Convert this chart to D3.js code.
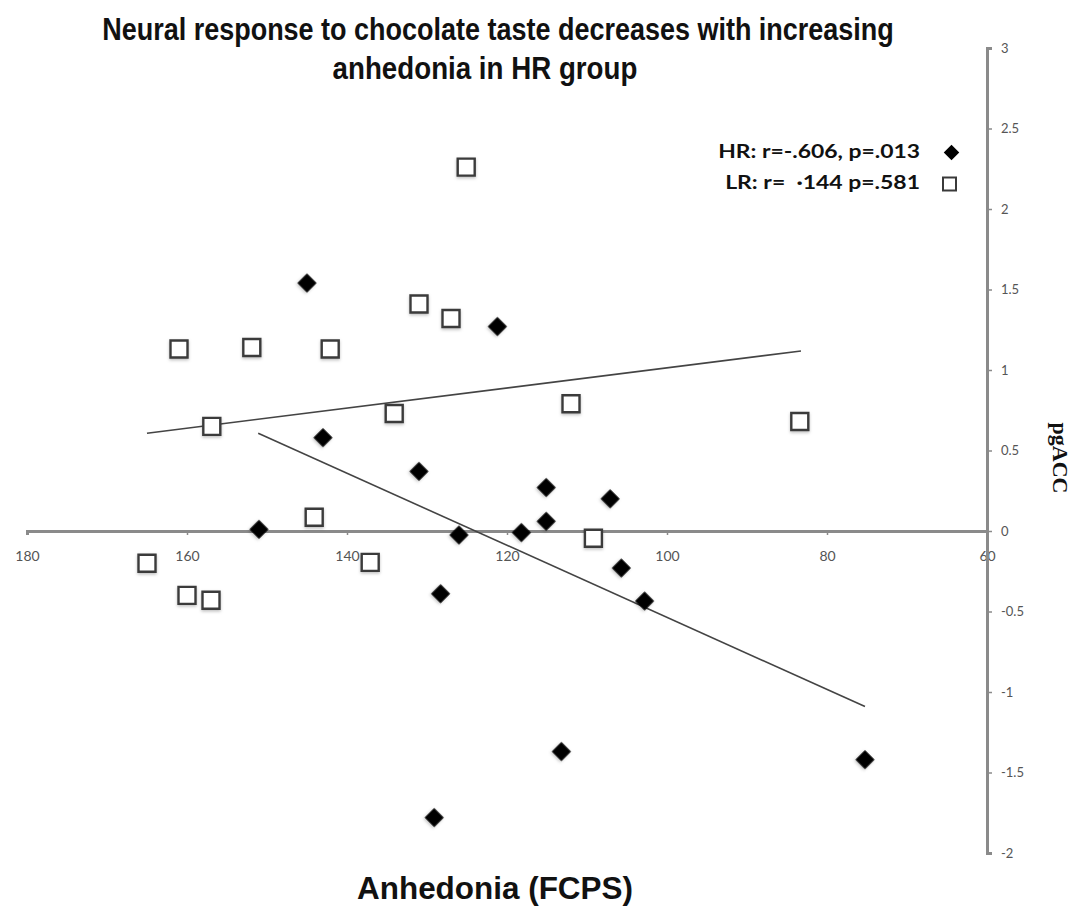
<!DOCTYPE html>
<html>
<head>
<meta charset="utf-8">
<script src="https://cdn.jsdelivr.net/npm/d3@7"></script>
<style>
  html, body { margin: 0; padding: 0; background: #fff; }
  svg { display: block; }
</style>
</head>
<body>
<svg id="chart" width="1082" height="906"></svg>
<script>
// ---- data ----
const hrX = [145, 121.2, 143, 131, 115.1, 107.1, 115.1, 151, 126, 118.2, 105.7, 102.8, 128.3, 113.2, 75.25, 129.1];
const hrY = [1.54, 1.27, 0.58, 0.37, 0.27, 0.20, 0.06, 0.01, -0.025, -0.01, -0.23, -0.435, -0.39, -1.37, -1.42, -1.78];
const lrX = [161, 151.9, 142.1, 131, 127, 156.9, 134.1, 112, 144.1, 109.2, 125.1, 83.4, 165, 160, 157, 137.1];
const lrY = [1.13, 1.14, 1.13, 1.41, 1.32, 0.65, 0.73, 0.79, 0.085, -0.045, 2.26, 0.68, -0.2, -0.40, -0.43, -0.195];
const hrTrendX = [151.1, 75.25];
const hrTrendY = [0.607, -1.09];
const lrTrendX = [165, 83.25];
const lrTrendY = [0.607, 1.118];
const xTicks = [180, 160, 140, 120, 100, 80, 60];
const yTicks = [3, 2.5, 2, 1.5, 1, 0.5, 0, -0.5, -1, -1.5, -2];
const titleLines = ["Neural response to chocolate taste decreases with increasing", "anhedonia in HR group"];
const xTitle = "Anhedonia (FCPS)";
const yTitle = "pgACC";
const legendLabels = ["HR: r=-.606, p=.013", "LR: r=  \u00b7144 p=.581"];

// ---- scales ----
const svg = d3.select("#chart");
const x = d3.scaleLinear().domain([180, 60]).range([27, 987]);
const y = d3.scaleLinear().domain([-2, 3]).range([853, 48]);

const defs = svg.append("defs");
const f = defs.append("filter").attr("id", "shadow").attr("x", "-50%").attr("y", "-50%").attr("width", "200%").attr("height", "200%");
f.append("feDropShadow").attr("dx", 0).attr("dy", 1.5).attr("stdDeviation", 1.5).attr("flood-color", "#000").attr("flood-opacity", 0.25);

const axisColor = "#8a8a8a";
const tickFont = "Lato, 'Open Sans', sans-serif";

// Fit a text to a given width by horizontal scaling (keeps bounding box honest)
function fitText(sel, cx, cy, width, anchor) {
  const node = sel.node();
  const w = node.getComputedTextLength();
  const s = width / w;
  sel.attr("x", 0).attr("y", 0).attr("text-anchor", anchor)
    .attr("transform", `translate(${cx},${cy}) scale(${s},1)`);
}

// ---- x axis (at y = 0) ----
const xAxis = svg.append("g")
  .attr("transform", `translate(0,${y(0)})`)
  .call(d3.axisBottom(x).tickValues(xTicks).tickSize(4).tickPadding(16).tickFormat(d3.format("d")));
xAxis.select(".domain").attr("stroke", axisColor).attr("stroke-width", 3);
xAxis.selectAll(".tick line").attr("stroke", axisColor).attr("stroke-width", 1.5);
xAxis.selectAll(".tick text").attr("fill", "#555").style("font-family", tickFont).style("font-size", "14px");

// ---- y axis (at x = 60) ----
const yAxis = svg.append("g")
  .attr("transform", `translate(${x(60)},0)`)
  .call(d3.axisRight(y).tickValues(yTicks).tickSize(5).tickPadding(9).tickFormat(d => String(d)));
yAxis.select(".domain").attr("stroke", axisColor).attr("stroke-width", 3);
yAxis.selectAll(".tick line").attr("stroke", axisColor).attr("stroke-width", 1.5);
yAxis.selectAll(".tick text").attr("fill", "#555").style("font-family", tickFont).style("font-size", "13px");

// ---- trend lines ----
const line = d3.line().x(d => x(d[0])).y(d => y(d[1]));
svg.append("path").datum(d3.zip(lrTrendX, lrTrendY)).attr("d", line)
  .attr("fill", "none").attr("stroke", "#444").attr("stroke-width", 1.6);
svg.append("path").datum(d3.zip(hrTrendX, hrTrendY)).attr("d", line)
  .attr("fill", "none").attr("stroke", "#444").attr("stroke-width", 1.6);

// ---- markers ----
const squareSym = d3.symbol(d3.symbolSquare, 17 * 17);
const diamondSym = d3.symbol(d3.symbolSquare, 13.5 * 13.5);

svg.append("g").selectAll("path").data(d3.zip(lrX, lrY)).join("path")
  .attr("d", squareSym)
  .attr("transform", d => `translate(${x(d[0])},${y(d[1])})`)
  .attr("fill", "#fff").attr("stroke", "#3a3a3a").attr("stroke-width", 2.4)
  .attr("filter", "url(#shadow)");

svg.append("g").selectAll("path").data(d3.zip(hrX, hrY)).join("path")
  .attr("d", diamondSym)
  .attr("transform", d => `translate(${x(d[0])},${y(d[1])}) rotate(45)`)
  .attr("fill", "#000")
  .attr("filter", "url(#shadow)");

// ---- title ----
const title = svg.append("g").style("font-family", "'Liberation Sans Narrow', 'Arial Narrow', 'Liberation Sans', Arial, sans-serif")
  .style("font-weight", "bold").style("font-size", "31px").attr("fill", "#111");
fitText(title.append("text").text(titleLines[0]), 498, 40, 792, "middle");
fitText(title.append("text").text(titleLines[1]), 485, 79, 305, "middle");

// ---- x axis title ----
fitText(svg.append("text")
  .style("font-family", "'Liberation Sans', Arial, sans-serif").style("font-weight", "bold").style("font-size", "32px")
  .attr("fill", "#111").text(xTitle), 495, 899, 276, "middle");

// ---- y axis title ----
svg.append("text").attr("transform", "translate(1060,458) rotate(90)")
  .attr("text-anchor", "middle").attr("dominant-baseline", "central")
  .style("font-family", "'Liberation Serif', 'Times New Roman', serif").style("font-weight", "bold").style("font-size", "22px")
  .attr("fill", "#111").text(yTitle);

// ---- legend ----
const legend = svg.append("g").style("font-family", "Lato, 'Open Sans', sans-serif").style("font-weight", "bold")
  .style("font-size", "18px").attr("fill", "#111");
fitText(legend.append("text").style("white-space", "pre").text(legendLabels[0]), 920, 158, 202, "end");
fitText(legend.append("text").style("white-space", "pre").text(legendLabels[1]), 920, 189, 195, "end");
legend.append("path").attr("d", d3.symbol(d3.symbolSquare, 11 * 11))
  .attr("transform", "translate(951.5,152.5) rotate(45)").attr("fill", "#000");
legend.append("path").attr("d", d3.symbol(d3.symbolSquare, 13 * 13))
  .attr("transform", "translate(949.5,184)").attr("fill", "#fff").attr("stroke", "#3a3a3a").attr("stroke-width", 2);
</script>
</body>
</html>
